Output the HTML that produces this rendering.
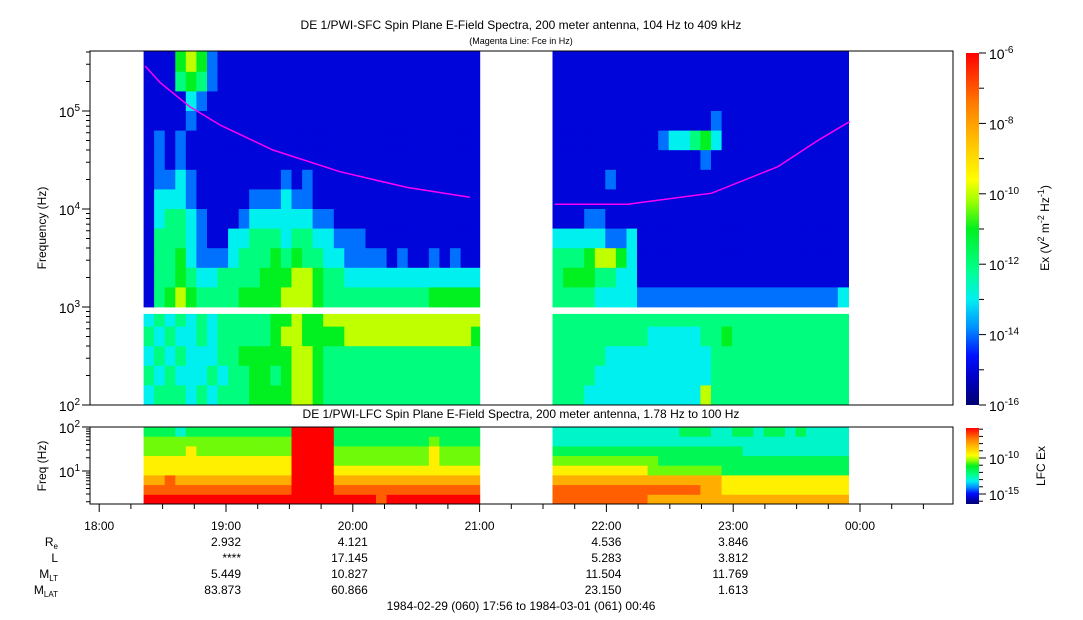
<!DOCTYPE html>
<html><head><meta charset="utf-8"><style>
body{margin:0;background:#fff;}
svg{display:block;font-family:"Liberation Sans",sans-serif;}
</style></head><body>
<svg id="chart" width="1083" height="620" viewBox="0 0 1083 620" xmlns="http://www.w3.org/2000/svg">
<defs>
<linearGradient id="cmap" x1="0" y1="1" x2="0" y2="0">
<stop offset="0" stop-color="#000070"/><stop offset="0.08" stop-color="#0000c8"/><stop offset="0.14" stop-color="#0010ff"/><stop offset="0.22" stop-color="#0090ff"/><stop offset="0.3" stop-color="#00f0f0"/><stop offset="0.38" stop-color="#00ff90"/><stop offset="0.5" stop-color="#00f020"/><stop offset="0.58" stop-color="#a0ff00"/><stop offset="0.64" stop-color="#ffff00"/><stop offset="0.75" stop-color="#ffc000"/><stop offset="0.85" stop-color="#ff8000"/><stop offset="1" stop-color="#ff0000"/>
</linearGradient>
</defs>
<text x="521" y="29" font-size="12" text-anchor="middle">DE 1/PWI-SFC  Spin Plane E-Field Spectra, 200 meter antenna, 104 Hz to 409 kHz</text>
<text x="521" y="44" font-size="9" text-anchor="middle">(Magenta Line: Fce in Hz)</text>
<text x="521" y="418" font-size="12" text-anchor="middle">DE 1/PWI-LFC  Spin Plane E-Field Spectra, 200 meter antenna, 1.78 Hz to 100 Hz</text>
<g id="cells"></g>
<g id="overlay"></g>
<rect x="90" y="51" width="863" height="354" fill="none" stroke="#000"/>
<rect x="90" y="427" width="863" height="77" fill="none" stroke="#000"/>
<text transform="translate(46,228) rotate(-90)" font-size="12" text-anchor="middle">Frequency (Hz)</text>
<text transform="translate(46,466) rotate(-90)" font-size="12" text-anchor="middle">Freq (Hz)</text>
<rect x="966" y="53" width="13" height="352" fill="url(#cmap)"/>
<rect x="966" y="428" width="13" height="76" fill="url(#cmap)"/>
<text transform="translate(1049,228) rotate(-90)" font-size="12" text-anchor="middle">Ex (V<tspan dy="-5" font-size="9">2</tspan><tspan dy="5"> m</tspan><tspan dy="-5" font-size="9">-2</tspan><tspan dy="5"> Hz</tspan><tspan dy="-5" font-size="9">-1</tspan><tspan dy="5">)</tspan></text>
<text transform="translate(1045,466) rotate(-90)" font-size="12" text-anchor="middle">LFC Ex</text>
<g id="axes" font-size="12"></g>
<text x="521" y="610" font-size="12" text-anchor="middle">1984-02-29 (060) 17:56 to 1984-03-01 (061) 00:46</text>
</svg>
<script>
// ---- data ----
const sfcRowEdges = [5.612,5.4,5.2,5.0,4.8,4.6,4.4,4.2,4.0,3.8,3.6,3.4,3.2,3.0];
const sfcLowRowEdges = [2.93,2.8,2.6,2.4,2.2,2.0];
const segStart = [18.35, 21.575];
const segEnd = [21.0, 23.985];
// digit d -> log10 power = -16 + d
const sfcLeft = [
"11156521111111111111111111111111","11145421111111111111111111111111","11113211111111111111111111111111",
"11112111111111111111111111111111","12121111111111111111111111111111","12121111111111111111111111111111",
"12232111111112121111111111111111","13332111112223221111111111111111","13443211123333332211111111111111",
"14443211334443443322211111111111","14453222344454544332222121121211","14454334444555665443333333333333",
"14565444455556665444444444455555"];
const sfcLowLeft = ["34343434444455655666666666666666","43433434444456655556666666666665","34343334455555665444444444444444","43433343445545665444444444444444","34443434445555665444444444444444"];
const sfcRight = [
"1111111111111111111111111111","1111111111111111111111111111","1111111111111111111111111111",
"1111111111111112111111111111","1111111111233453111111111111","1111111111111121111111111111",
"1111121111111111111111111111","1111111111111111111111111111","1112211111111111111111111111",
"3333322311111111111111111111","4445665311111111111111111111","4555443311111111111111111111",
"4444333322222222222222222223"];
const sfcLowRight = ["4444444444444444444444444444","4444444443333344544444444444","4444433333333334444444444444","4444333333333334444444444444","4443333333333364444444444444"];
const lfcRowEdges = [2.0,1.78,1.56,1.34,1.12,0.9,0.68,0.46,0.25];
// digit d -> log10 power = -16.4 + d*10.6/9
const lfcLeft = ["44434444444444999944444444444444","55555555555555999944444444454444","55556555555555999955555555565555","66666666666666999955555555565555","66666666666666999966666666666666","77877777777777999977777777777777","88888888888888999988888888888888","99999999999999999999998999999999"];
const lfcRight = ["3333333333334443344344343333","3333333333333333333333333333","4444444444444444443333333333","5555555555444444444444444444","6666666665555555444444444444","7777777777777777666666666666","8888888888888877666666666666","8888888887777777777777777777"];
const fceLeftT = [18.362,18.48,18.717,18.953,19.37,19.898,20.427,20.923];
const fceLeftF = [288000,195000,110000,72000,40000,24000,16600,13200];
const fceRightT = [21.593,22.168,22.83,23.352,23.667,23.918];
const fceRightF = [11200,11200,14500,27000,50000,78000];
const hourTicks = ["18:00","19:00","20:00","21:00","22:00","23:00","00:00"];
const ephemTimes = [19,20,22,23];
const ephemRe = ["2.932","4.121","4.536","3.846"];
const ephemL = ["****","17.145","5.283","3.812"];
const ephemMLT = ["5.449","10.827","11.504","11.769"];
const ephemMLAT = ["83.873","60.866","23.150","1.613"];
// ---- scales ----
const NS="http://www.w3.org/2000/svg";
const xOf = t => 99.2 + (t-18)*126.8;
const yTop = lf => 111 - (lf-5)*98;
const yBot = lf => 427 + (2-lf)*44;
const stops=[[0,[0,0,112]],[0.08,[0,0,200]],[0.14,[0,16,255]],[0.22,[0,144,255]],[0.3,[0,240,240]],[0.38,[0,255,144]],[0.5,[0,240,32]],[0.58,[160,255,0]],[0.64,[255,255,0]],[0.75,[255,192,0]],[0.85,[255,128,0]],[1,[255,0,0]]];
function cmap(f){f=Math.max(0,Math.min(1,f));for(let i=1;i<stops.length;i++){if(f<=stops[i][0]){const a=stops[i-1],b=stops[i];const u=(f-a[0])/(b[0]-a[0]);const c=a[1].map((v,k)=>Math.round(v+(b[1][k]-v)*u));return `rgb(${c[0]},${c[1]},${c[2]})`;}}return "rgb(255,0,0)";}
const sfcFrac = d => ((-16+d)+16)/10;
const lfcFrac = d => ((-16.4+d*10.6/9)+16.4)/10.6;
const cells=document.getElementById('cells');
function drawGrid(rows, edges, yf, seg, fracFn, name){
  rows.forEach((s,r)=>{
    for(let c=0;c<s.length;c++){
      const t0=segStart[seg]+c*5/60; let t1=t0+5/60;
      if(t0>=segEnd[seg]) break; if(t1>segEnd[seg]) t1=segEnd[seg];
      const x0=xOf(t0), x1=xOf(t1), y0=yf(edges[r]), y1=yf(edges[r+1]);
      const el=document.createElementNS(NS,'rect');
      el.setAttribute('x',x0.toFixed(1));el.setAttribute('y',y0.toFixed(1));
      el.setAttribute('width',(x1-x0+0.6).toFixed(1));el.setAttribute('height',(y1-y0+0.4).toFixed(1));
      el.setAttribute('fill',cmap(fracFn(+s[c])));
      
      
      cells.appendChild(el);
    }
  });
}
drawGrid(sfcLeft,sfcRowEdges,yTop,0,sfcFrac,'sfc-cell');
drawGrid(sfcLowLeft,sfcLowRowEdges,yTop,0,sfcFrac,'sfc-cell');
drawGrid(sfcRight,sfcRowEdges,yTop,1,sfcFrac,'sfc-cell');
drawGrid(sfcLowRight,sfcLowRowEdges,yTop,1,sfcFrac,'sfc-cell');
drawGrid(lfcLeft,lfcRowEdges,yBot,0,lfcFrac,'lfc-cell');
drawGrid(lfcRight,lfcRowEdges,yBot,1,lfcFrac,'lfc-cell');
const ov=document.getElementById('overlay');
function fceLine(T,F){
  const p=document.createElementNS(NS,'polyline');
  p.setAttribute('points',T.map((t,i)=>xOf(t).toFixed(1)+','+yTop(Math.log10(F[i])).toFixed(1)).join(' '));
  p.setAttribute('fill','none');p.setAttribute('stroke','#ff00ff');p.setAttribute('stroke-width','1.5');
  
  
  ov.appendChild(p);
}
fceLine(fceLeftT,fceLeftF); fceLine(fceRightT,fceRightF);
// ---- axes ----
const ax=document.getElementById('axes');
function line(x1,y1,x2,y2,name){const l=document.createElementNS(NS,'line');l.setAttribute('x1',x1);l.setAttribute('y1',y1);l.setAttribute('x2',x2);l.setAttribute('y2',y2);l.setAttribute('stroke','#000');
  
  
  ax.appendChild(l);}
function txt(x,y,html,anchor,name,size){const t=document.createElementNS(NS,'text');t.setAttribute('x',x);t.setAttribute('y',y);t.setAttribute('text-anchor',anchor);if(size)t.setAttribute('font-size',size);t.innerHTML=html;
  
  
  ax.appendChild(t);}
const pow=(b,e)=>`${b}<tspan dy="-6" font-size="10">${e}</tspan>`;
for(let e=2;e<=5;e++){
  line(82,yTop(e),90,yTop(e),'y-major-tick');
  txt(80,yTop(e)+6,pow(10,e),'end','y-tick-label',14);
  for(let m=2;m<=9;m++){const lf=e+Math.log10(m);if(lf<5.612)line(86,yTop(lf),90,yTop(lf),'y-minor-tick');}
}
for(let e=0;e<=2;e++){for(let m=1;m<=9;m++){const lf=e+Math.log10(m);if(lf>=0.25&&lf<=2)line(m==1?82:86,yBot(lf),90,yBot(lf),'lfc-y-tick');}}
txt(80,yBot(2)+6,pow(10,2),'end','lfc-y-tick-label',14);
txt(80,yBot(1)+6,pow(10,1),'end','lfc-y-tick-label',14);
for(let q=0;q<=27;q++){const t=18+q*0.25;const x=xOf(t);if(x>953)break;line(x,504,x,q%4==0?512:509,'x-tick');}
hourTicks.forEach((h,i)=>txt(xOf(18+i),530,h,'middle','x-tick-label'));
const rowsY=[546,562,578,594];
txt(58,546,'R<tspan dy="3" font-size="8">e</tspan>','end','ephem-label-re');
txt(58,562,'L','end','ephem-label-l');
txt(58,578,'M<tspan dy="3" font-size="8">LT</tspan>','end','ephem-label-mlt');
txt(58,594,'M<tspan dy="3" font-size="8">LAT</tspan>','end','ephem-label-mlat');
[ephemRe,ephemL,ephemMLT,ephemMLAT].forEach((arr,r)=>arr.forEach((v,i)=>{if(v)txt(xOf(ephemTimes[i])+15,rowsY[r],v,'end','ephem-value');}));
for(let d=-16;d<=-6;d++){const y=405-(d+16)*35.2;line(979,y,d%2==0?986:984,y,'colorbar-tick');if(d%2==0)txt(989,y+6,pow(10,d),'start','colorbar-tick-label',14);}
for(let d=-16;d<=-6;d++){const y=458-(d+10)*7.2;if(y>=428&&y<=504)line(979,y,(d%5==0)?986:983,y,'lfc-colorbar-tick');}
txt(989,464,pow(10,-10),'start','lfc-colorbar-tick-label',14);
txt(989,500,pow(10,-15),'start','lfc-colorbar-tick-label',14);
</script>
</body></html>
